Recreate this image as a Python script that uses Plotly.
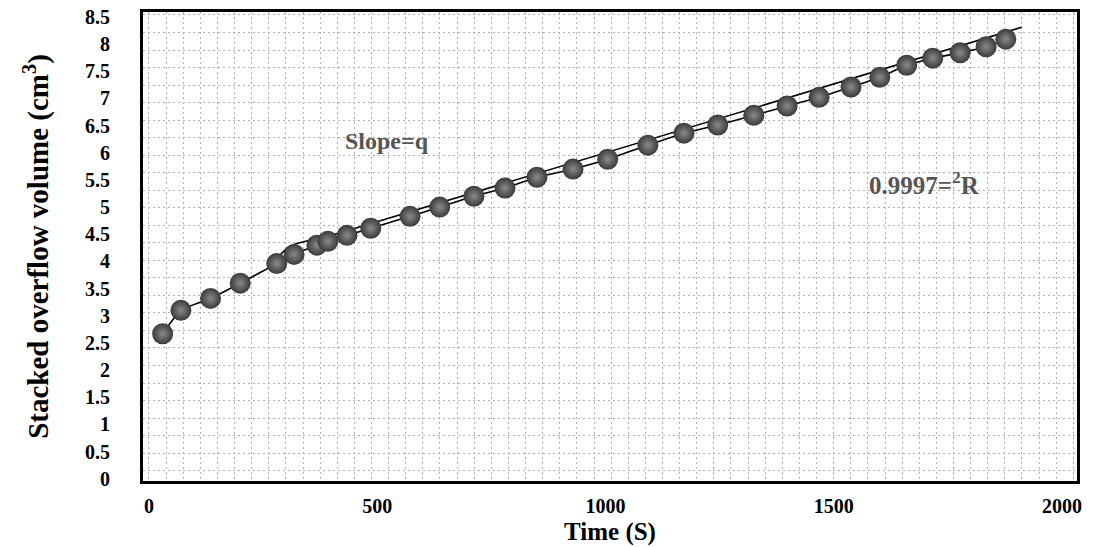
import plotly.graph_objects as go

# data
time_s = [30, 70, 135, 200, 280, 318, 368, 392, 434, 486, 572, 637, 712, 780, 850,
          929, 1005, 1093, 1172, 1246, 1325, 1398, 1468, 1538, 1601, 1660, 1717, 1777, 1834, 1877]
volume = [2.67, 3.10, 3.32, 3.60, 3.96, 4.13, 4.30, 4.37, 4.48, 4.61, 4.83, 5.00, 5.20, 5.35, 5.55,
          5.70, 5.88, 6.14, 6.36, 6.51, 6.69, 6.86, 7.02, 7.21, 7.39, 7.61, 7.74, 7.84, 7.95, 8.09]

fit_x = [280, 309, 368, 425, 1912]
fit_y = [4.05, 4.28, 4.42, 4.54, 8.31]

x_ticks = [0, 500, 1000, 1500, 2000]
y_ticks = [0, 0.5, 1, 1.5, 2, 2.5, 3, 3.5, 4, 4.5, 5, 5.5, 6, 6.5, 7, 7.5, 8, 8.5]
y_tick_text = ["0", "0.5", "1", "1.5", "2", "2.5", "3", "3.5", "4", "4.5", "5", "5.5",
               "6", "6.5", "7", "7.5", "8", "8.5"]

FONT = "Liberation Serif"
XR = [-13, 2033]
YR = [-0.04, 8.59]
GRID = "#b0b0b0"

fig = go.Figure()

# invisible copy of the series on the overlay axes that carry the background grid
fig.add_trace(go.Scatter(
    x=time_s, y=volume, xaxis="x2", yaxis="y2", mode="markers",
    marker=dict(opacity=0), showlegend=False, hoverinfo="skip"))

fig.add_trace(go.Scatter(
    x=fit_x, y=fit_y, mode="lines",
    line=dict(color="black", width=1.6, shape="spline", smoothing=0.8),
    showlegend=False, hoverinfo="skip"))

fig.add_trace(go.Scatter(
    x=time_s, y=volume, mode="lines+markers",
    line=dict(color="black", width=1.6, shape="spline", smoothing=0.5),
    marker=dict(size=21, color="#3a3a3a",
                gradient=dict(type="radial", color="#8a8a8a"),
                line=dict(width=0)),
    showlegend=False))

fig.add_annotation(x=521, y=6.21, text="Slope=q", showarrow=False,
                   font=dict(family=FONT, size=24, color="#555555", weight="bold"))
fig.add_annotation(x=1700, y=5.44, text="0.9997=<sup>2</sup>R", showarrow=False,
                   font=dict(family=FONT, size=25, color="#555555", weight="bold"))

fig.update_layout(
    width=1093, height=547,
    margin=dict(l=143, r=16, t=12, b=66),
    paper_bgcolor="white", plot_bgcolor="white",
    font=dict(family=FONT, color="black"),
    xaxis=dict(
        range=XR, tickvals=x_ticks, ticktext=[str(v) for v in x_ticks],
        showgrid=False, zeroline=False, automargin=False,
        showline=True, linecolor="black", linewidth=3, mirror=True,
        ticks="", ticklabelstandoff=5,
        tickfont=dict(family=FONT, size=20, weight="bold"),
        title=dict(text="Time (S)", standoff=7,
                   font=dict(family=FONT, size=25, weight="bold"))),
    yaxis=dict(
        range=YR, tickvals=y_ticks, ticktext=y_tick_text,
        showgrid=False, zeroline=False, automargin=False,
        showline=True, linecolor="black", linewidth=3, mirror=True,
        ticks="", ticklabelstandoff=26,
        tickfont=dict(family=FONT, size=20, weight="bold"),
        title=dict(text="Stacked overflow volume (cm<sup>3</sup>)", standoff=28,
                   font=dict(family=FONT, size=29, weight="bold"))),
    xaxis2=dict(range=XR, overlaying="x", anchor="y", dtick=37.5, tick0=0,
                showgrid=True, gridcolor=GRID, gridwidth=1, griddash="2px,3px",
                showticklabels=False, zeroline=False, showline=False, ticks="",
                automargin=False),
    yaxis2=dict(range=YR, overlaying="y", anchor="x", dtick=0.3225, tick0=0.15,
                showgrid=True, gridcolor=GRID, gridwidth=1, griddash="2px,3px",
                showticklabels=False, zeroline=False, showline=False, ticks="",
                automargin=False),
)

fig.write_html("out.html")
